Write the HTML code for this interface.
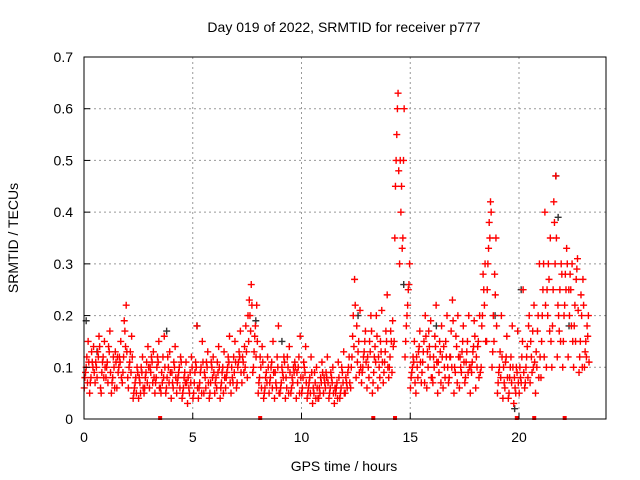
<!DOCTYPE html>
<html><head><meta charset="utf-8"><style>
body{margin:0;background:#fff}
svg{display:block;font-family:"Liberation Sans",sans-serif}
</style></head><body>
<svg id="chart" width="640" height="480">
<text x="344" y="32" font-size="14" text-anchor="middle">Day 019 of 2022, SRMTID for receiver p777</text>
<text x="344" y="471" font-size="14" text-anchor="middle">GPS time / hours</text>
<text x="18" y="238" font-size="14" text-anchor="middle" transform="rotate(-90 18 238)">SRMTID / TECUs</text>
<g id="grid"></g><g id="marks"></g><g id="axes"></g>
</svg>
<script>
const xTicks=[0,5,10,15,20];
const yTicks=[0,0.1,0.2,0.3,0.4,0.5,0.6,0.7];
const seriesLow=[.06,.05,.07,.06,.08,.05,.06,.07,.08,.04,.04,.05,.06,.05,.06,.05,.04,.05,.04,.03,.04,.04,.05,.04,.05,.04,.06,.05,.06,.07,.08,.09,.05,.04,.05,.04,.05,.04,.05,.04,.05,.04,.03,.04,.05,.04,.03,.04,.05,.06,.08,.07,.06,.05,.06,.07,.08,.15,.3,.12,.06,.05,.07,.06,.08,.05,.06,.07,.05,.06,.07,.05,.06,.1,.15,.1,.05,.04,.04,.03,.05,.06,.07,.05,.08,.1,.1,.12,.1,.12,.1,.09,.1];
const seriesMidLow=[.09,.08,.1,.09,.11,.08,.09,.12,.1,.06,.07,.08,.09,.08,.09,.08,.07,.08,.06,.06,.07,.07,.08,.07,.08,.07,.09,.08,.1,.11,.15,.13,.08,.06,.08,.07,.07,.06,.08,.07,.08,.06,.05,.06,.07,.06,.05,.06,.07,.12,.11,.1,.1,.09,.1,.11,.12,.45,.4,.18,.09,.1,.11,.1,.12,.09,.1,.12,.09,.1,.11,.09,.1,.2,.3,.2,.09,.07,.08,.06,.08,.1,.12,.1,.2,.2,.25,.2,.2,.2,.22,.15,.15];
const seriesMidHigh=[.12,.11,.13,.12,.14,.1,.12,.17,.13,.08,.1,.11,.11,.12,.12,.1,.11,.1,.09,.09,.11,.1,.11,.1,.11,.1,.12,.12,.13,.14,.2,.18,.1,.09,.11,.12,.09,.1,.1,.12,.1,.08,.07,.08,.09,.08,.07,.09,.09,.2,.15,.13,.15,.14,.15,.17,.15,.55,.33,.22,.12,.13,.15,.14,.16,.13,.15,.17,.14,.13,.15,.13,.15,.25,.38,.28,.13,.11,.12,.1,.12,.14,.17,.2,.3,.27,.38,.25,.28,.25,.27,.2,.18];
const seriesHigh=[.15,.14,.16,.15,.17,.13,.15,.22,.16,.1,.12,.14,.13,.15,.16,.13,.14,.12,.11,.12,.18,.15,.13,.12,.14,.13,.16,.15,.17,.18,.26,.22,.14,.12,.15,.18,.12,.14,.11,.16,.14,.12,.1,.11,.12,.1,.11,.13,.12,.27,.21,.17,.2,.2,.21,.24,.19,.63,.5,.26,.15,.17,.2,.19,.22,.18,.2,.23,.2,.18,.2,.19,.2,.3,.42,.35,.2,.16,.18,.17,.25,.18,.22,.3,.4,.35,.47,.3,.33,.3,.31,.27,.2];
const seriesExtra1=[.08,.07,.11,.05,.1,.07,.12,.09,.06,.05,.08,.06,.1,.07,.05,.06,.09,.07,.05,.08,.05,.06,.09,.05,.07,.06,.08,.1,.07,.12,.2,.1,.07,.05,.07,.09,.06,.08,.06,.09,.06,.05,.06,.04,.08,.05,.06,.05,.08,.1,.18,.09,.12,.07,.12,.09,.1,.35,.5,.15,.08,.12,.09,.13,.07,.11,.14,.08,.1,.12,.08,.1,.12,.18,.25,.13,.07,.1,.05,.08,.1,.07,.15,.13,.15,.25,.18,.22,.15,.25,.18,.12,.13];
const seriesExtra2=[.1,.13,.08,.11,.07,.12,.1,.19,.11,.07,.05,.09,.12,.1,.07,.12,.06,.09,.08,.05,.09,.09,.06,.11,.06,.09,.1,.07,.11,.09,.23,.16,.12,.08,.1,.06,.1,.12,.07,.1,.11,.07,.09,.05,.06,.09,.06,.1,.06,.16,.13,.12,.08,.12,.08,.13,.17,.5,.45,.2,.1,.08,.13,.17,.1,.15,.08,.12,.16,.09,.13,.11,.14,.28,.33,.15,.1,.06,.1,.05,.07,.12,.09,.17,.25,.3,.42,.17,.22,.28,.15,.24,.12];
const seriesExtra3=[.07,.1,.12,.08,.13,.06,.11,.14,.09,.05,.09,.07,.07,.11,.08,.07,.1,.06,.07,.07,.1,.05,.1,.08,.09,.05,.11,.09,.12,.1,.17,.12,.06,.07,.06,.1,.08,.05,.09,.05,.09,.05,.04,.07,.08,.07,.04,.07,.1,.14,.09,.15,.13,.11,.13,.15,.09,.6,.35,.25,.11,.14,.07,.12,.14,.07,.12,.1,.07,.15,.09,.14,.08,.22,.35,.24,.08,.12,.07,.09,.15,.08,.1,.08,.12,.17,.3,.15,.25,.18,.29,.1,.16];
const seriesExtra4=[.11,.09,.14,.1,.09,.11,.08,.13,.12,.09,.06,.1,.08,.06,.1,.09,.08,.11,.07,.1,.06,.11,.07,.09,.1,.08,.07,.11,.09,.13,.22,.15,.11,.1,.09,.05,.11,.09,.1,.08,.07,.09,.06,.09,.07,.05,.08,.05,.07,.22,.1,.11,.17,.16,.11,.1,.14,.48,.6,.3,.07,.11,.16,.08,.11,.12,.1,.19,.12,.11,.1,.16,.09,.15,.4,.18,.12,.08,.1,.07,.09,.2,.11,.12,.22,.15,.35,.28,.3,.15,.21,.22,.11];
const blackTimes=[0.1,0.6,3.8,5.2,7.9,9.1,12.6,14.7,16.2,18.9,19.8,20.1,21.7,21.8,22.3];
const blackValues=[0.19,0.13,0.17,0.18,0.19,0.15,0.2,0.26,0.18,0.2,0.02,0.25,0.47,0.39,0.18];
const bottomMarks=[3.5,8.1,13.3,14.3,19.9,20.7,22.1];
const X0=84,X1=606,Y0=419,Y1=57;
const xs=t=>X0+t/24*(X1-X0);
const ys=v=>Y0-v/0.7*(Y0-Y1);
const NS="http://www.w3.org/2000/svg";
const grid=document.getElementById('grid'),marks=document.getElementById('marks'),axes=document.getElementById('axes');
function mk(tag,attrs,parent){const e=document.createElementNS(NS,tag);for(const k in attrs)e.setAttribute(k,attrs[k]);parent.appendChild(e);return e;}
xTicks.forEach(t=>{
 if(t>0){const g=mk('line',{x1:xs(t),x2:xs(t),y1:Y0,y2:Y1,stroke:'#999','stroke-dasharray':'2,3'},grid);
 
 }
 const tk=mk('line',{x1:xs(t),x2:xs(t),y1:Y0,y2:Y0-6,stroke:'#000'},axes);
 
 
 const lb=mk('text',{x:xs(t),y:Y0+23,'font-size':14,'text-anchor':'middle'},axes);lb.textContent=t;
 
 
});
yTicks.forEach(v=>{
 if(v>0&&v<0.7){const g=mk('line',{x1:X0,x2:X1,y1:ys(v),y2:ys(v),stroke:'#999','stroke-dasharray':'2,3'},grid);
 
 }
 const tk=mk('line',{x1:X0,x2:X0+6,y1:ys(v),y2:ys(v),stroke:'#000'},axes);
 
 
 const lb=mk('text',{x:X0-11,y:ys(v)+5,'font-size':14,'text-anchor':'end'},axes);lb.textContent=(v===0?'0':v.toFixed(1));
 
 
});
function plus(t,v,col){
 const x=xs(t),y=ys(v);
 return mk('path',{d:`M${x-3.5} ${y}h7M${x} ${y-3.5}v7`,stroke:col,'stroke-width':1.4,fill:'none'},marks);
}
blackTimes.forEach((t,i)=>{const p=plus(t,blackValues[i],'#333');
 
 });
[seriesLow,seriesExtra1,seriesMidLow,seriesExtra2,seriesMidHigh,seriesExtra3,seriesHigh,seriesExtra4].forEach((arr,k)=>{
 const off=0.01+k*0.03;
 arr.forEach((v,i)=>{const p=plus(i*0.25+off,v,'#f00');
  
  });
});
bottomMarks.forEach(t=>{const r=mk('rect',{x:xs(t)-2,y:Y0-3,width:4,height:4,fill:'#f00'},marks);
 
 });
const box=mk('rect',{x:X0,y:Y1,width:X1-X0,height:Y0-Y1,fill:'none',stroke:'#000'},axes);


</script>
</body></html>
